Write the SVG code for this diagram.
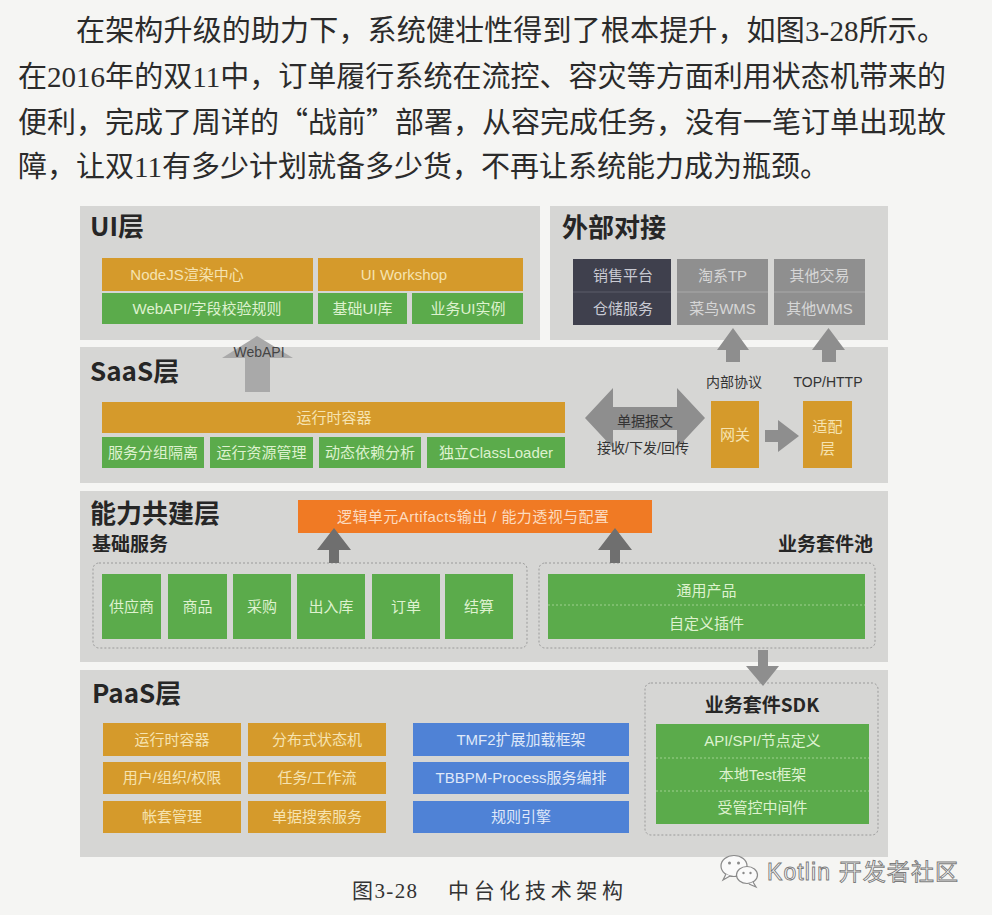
<svg xmlns="http://www.w3.org/2000/svg" width="992" height="915" viewBox="0 0 992 915">
<style>
.page{fill:#f5f5f3}
.panel{fill:#d6d6d4}
.para{font-family:"Liberation Serif","Noto Sans CJK SC",serif;font-size:29px;fill:#2b2b2b}
.cjk{font-family:"Noto Sans CJK SC",sans-serif}
.cap{font-family:"Liberation Serif","Noto Sans CJK SC",serif;font-size:21px;fill:#333}
.title{font-family:"Noto Sans CJK SC","Liberation Sans",sans-serif;font-weight:700;font-size:26px;fill:#262626}
.sub{font-family:"Noto Sans CJK SC","Liberation Sans",sans-serif;font-weight:700;font-size:19px;fill:#262626}
.bt{font-family:"Liberation Sans","Noto Sans CJK SC",sans-serif;font-size:15px;text-anchor:middle}
.lbl{font-family:"Liberation Sans","Noto Sans CJK SC",sans-serif;font-size:14px;text-anchor:middle;fill:#333}
.or{fill:#d59a2b}.ort{fill:#f6e3b0}
.gr{fill:#5bab4b}.grt{fill:#def2cf}
.dk{fill:#3f404d}.dkt{fill:#c9cad3}
.gy{fill:#8f8f8f}.gyt{fill:#d6d6d6}
.bl{fill:#4f82d6}.blt{fill:#dfe8f9}
.bo{fill:#f07a24}.bot{fill:#fcdcc0}
.arr{fill:#8e8e8e}
.arr2{fill:#6f6f6f}
.dash{fill:none;stroke:#9a9a9a;stroke-width:1;stroke-dasharray:2 2}
.div{stroke-width:1;stroke-dasharray:2 2}
</style>
<rect class="page" x="0" y="0" width="992" height="915"/>

<g id="paragraph">
<text class="para" x="76" y="41" textLength="870" lengthAdjust="spacing">在架构升级的助力下，系统健壮性得到了根本提升，如图3-28所示。</text>
<text class="para" x="18" y="87" textLength="928" lengthAdjust="spacing">在2016年的双11中，订单履行系统在流控、容灾等方面利用状态机带来的</text>
<text class="para" x="18" y="133" textLength="928" lengthAdjust="spacing">便利，完成了周详的<tspan class="cjk">“</tspan>战前<tspan class="cjk">”</tspan>部署，从容完成任务，没有一笔订单出现故</text>
<text class="para" x="18" y="177">障，让双11有多少计划就备多少货，不再让系统能力成为瓶颈。</text>
</g>

<g id="panels">
<rect class="panel" x="80" y="206" width="460" height="134"/>
<rect class="panel" x="550" y="206" width="338" height="134"/>
<rect class="panel" x="80" y="347" width="808" height="136"/>
<rect class="panel" x="80" y="491" width="808" height="171"/>
<rect class="panel" x="80" y="670" width="808" height="187"/>
</g>

<g id="ui-layer">
<text class="title" x="90" y="236">UI层</text>
<g id="nodejs"><rect class="or" x="102" y="258" width="211" height="33"/><text class="bt ort" x="187" y="280">NodeJS渲染中心</text></g>
<g id="ui-workshop"><rect class="or" x="318" y="258" width="205" height="33"/><text class="bt ort" x="404" y="280">UI Workshop</text></g>
<g id="webapi-rules"><rect class="gr" x="102" y="293" width="211" height="31"/><text class="bt grt" x="207" y="314">WebAPI/字段校验规则</text></g>
<g id="base-ui"><rect class="gr" x="318" y="293" width="89" height="31"/><text class="bt grt" x="362.5" y="314">基础UI库</text></g>
<g id="biz-ui"><rect class="gr" x="412" y="293" width="111" height="31"/><text class="bt grt" x="468" y="314">业务UI实例</text></g>
</g>

<g id="external">
<text class="title" x="562" y="237">外部对接</text>
<g id="ext-dark"><rect class="dk" x="573" y="259" width="98" height="66"/><line x1="573" y1="292" x2="671" y2="292" stroke="#5c5d6a" stroke-width="1"/>
<text class="bt dkt" x="623" y="281">销售平台</text><text class="bt dkt" x="623" y="314">仓储服务</text></g>
<g id="ext-tb"><rect class="gy" x="677" y="259" width="91" height="66"/><line x1="677" y1="292" x2="768" y2="292" stroke="#a9a9a9" stroke-width="1"/>
<text class="bt gyt" x="722.5" y="281">淘系TP</text><text class="bt gyt" x="722.5" y="314">菜鸟WMS</text></g>
<g id="ext-other"><rect class="gy" x="774" y="259" width="91" height="66"/><line x1="774" y1="292" x2="865" y2="292" stroke="#a9a9a9" stroke-width="1"/>
<text class="bt gyt" x="819.5" y="281">其他交易</text><text class="bt gyt" x="819.5" y="314">其他WMS</text></g>
</g>

<g id="saas-layer">
<text class="title" x="90" y="381">SaaS层</text>
<g id="runtime"><rect class="or" x="102" y="402" width="463" height="31"/><text class="bt ort" x="334" y="423">运行时容器</text></g>
<g id="svc-group"><rect class="gr" x="102" y="437" width="102" height="31"/><text class="bt grt" x="153" y="458">服务分组隔离</text></g>
<g id="res-mgmt"><rect class="gr" x="210" y="437" width="103" height="31"/><text class="bt grt" x="261.5" y="458">运行资源管理</text></g>
<g id="dep-ana"><rect class="gr" x="319" y="437" width="102" height="31"/><text class="bt grt" x="370" y="458">动态依赖分析</text></g>
<g id="classloader"><rect class="gr" x="427" y="437" width="138" height="31"/><text class="bt grt" x="496" y="458">独立ClassLoader</text></g>
<g id="gateway"><rect class="or" x="711" y="401" width="48" height="67"/><text class="bt ort" x="735" y="440">网关</text></g>
<g id="adapter"><rect class="or" x="803" y="401" width="49" height="67"/><text class="bt ort" x="827.5" y="432">适配</text><text class="bt ort" x="827.5" y="454">层</text></g>
</g>

<g id="capability-layer">
<text class="title" x="90" y="523">能力共建层</text>
<text class="sub" x="92" y="551">基础服务</text>
<text class="sub" x="873" y="551" text-anchor="end">业务套件池</text>
<g id="artifacts"><rect class="bo" x="298" y="500" width="354" height="33"/><text class="bt bot" x="337" y="522" textLength="272" lengthAdjust="spacing" style="text-anchor:start">逻辑单元Artifacts输出 / 能力透视与配置</text></g>
<rect class="dash" x="93" y="563" width="434" height="85" rx="6"/>
<rect class="dash" x="539" y="563" width="336" height="85" rx="6"/>
<g id="supplier"><rect class="gr" x="102" y="574" width="59" height="65"/><text class="bt grt" x="131.5" y="612">供应商</text></g>
<g id="goods"><rect class="gr" x="168" y="574" width="59" height="65"/><text class="bt grt" x="197.5" y="612">商品</text></g>
<g id="purchase"><rect class="gr" x="233" y="574" width="58" height="65"/><text class="bt grt" x="262" y="612">采购</text></g>
<g id="inout"><rect class="gr" x="297" y="574" width="68" height="65"/><text class="bt grt" x="331" y="612">出入库</text></g>
<g id="order"><rect class="gr" x="372" y="574" width="68" height="65"/><text class="bt grt" x="406" y="612">订单</text></g>
<g id="settle"><rect class="gr" x="445" y="574" width="68" height="65"/><text class="bt grt" x="479" y="612">结算</text></g>
<g id="suite-pool"><rect class="gr" x="548" y="574" width="317" height="65"/><line class="div" x1="548" y1="605" x2="865" y2="605" stroke="#9fd08f"/>
<text class="bt grt" x="706.5" y="596">通用产品</text><text class="bt grt" x="706.5" y="629">自定义插件</text></g>
</g>

<g id="paas-layer">
<text class="title" x="92" y="703">PaaS层</text>
<g id="p-runtime"><rect class="or" x="103" y="723" width="138" height="33"/><text class="bt ort" x="172" y="745">运行时容器</text></g>
<g id="p-fsm"><rect class="or" x="248" y="723" width="138" height="33"/><text class="bt ort" x="317" y="745">分布式状态机</text></g>
<g id="p-user"><rect class="or" x="103" y="762" width="138" height="32"/><text class="bt ort" x="172" y="783">用户/组织/权限</text></g>
<g id="p-task"><rect class="or" x="248" y="762" width="138" height="32"/><text class="bt ort" x="317" y="783">任务/工作流</text></g>
<g id="p-account"><rect class="or" x="103" y="801" width="138" height="32"/><text class="bt ort" x="172" y="822">帐套管理</text></g>
<g id="p-search"><rect class="or" x="248" y="801" width="138" height="32"/><text class="bt ort" x="317" y="822">单据搜索服务</text></g>
<g id="p-tmf2"><rect class="bl" x="413" y="723" width="216" height="33"/><text class="bt blt" x="521" y="745">TMF2扩展加载框架</text></g>
<g id="p-tbbpm"><rect class="bl" x="413" y="762" width="216" height="32"/><text class="bt blt" x="521" y="783">TBBPM-Process服务编排</text></g>
<g id="p-rule"><rect class="bl" x="413" y="801" width="216" height="32"/><text class="bt blt" x="521" y="822">规则引擎</text></g>
<g id="sdk">
<rect class="dash" x="645" y="683" width="233" height="152" rx="6"/>
<text class="sub" x="762" y="712" text-anchor="middle">业务套件SDK</text>
<rect class="gr" x="656" y="724" width="213" height="100"/>
<line class="div" x1="656" y1="758" x2="869" y2="758" stroke="#9fd08f"/>
<line class="div" x1="656" y1="791" x2="869" y2="791" stroke="#9fd08f"/>
<text class="bt grt" x="762.5" y="746">API/SPI/节点定义</text>
<text class="bt grt" x="762.5" y="780">本地Test框架</text>
<text class="bt grt" x="762.5" y="813">受管控中间件</text>
</g>
</g>

<g id="connectors">
<polygon points="257,336 293,358 270,358 270,392 245,392 245,358 222,358" fill="#a9a9a9"/>
<text class="lbl" x="259" y="357" style="fill:#444">WebAPI</text>
<polygon class="arr" points="733,328 749,350 740,350 740,362 726,362 726,350 717,350"/>
<polygon class="arr" points="828.5,328 845,350 836,350 836,362 822,362 822,350 812,350"/>
<text class="lbl" x="734" y="387">内部协议</text>
<text class="lbl" x="828" y="387">TOP/HTTP</text>
<polygon class="arr" points="585,418 613,388 613,407 677,407 677,388 705,418 677,448 677,430 613,430 613,448"/>
<text class="lbl" x="645" y="426">单据报文</text>
<text class="lbl" x="643" y="453">接收/下发/回传</text>
<polygon class="arr" points="765,430 778,430 778,420 799,436 778,452 778,442 765,442"/>
<polygon class="arr2" points="334,528 351,550 339,550 339,563 329,563 329,550 317,550"/>
<polygon class="arr2" points="615,528 632,550 620,550 620,563 610,563 610,550 598,550"/>
<polygon class="arr" points="758,650 768,650 768,666 779,666 763,686 746,666 758,666"/>
</g>

<g id="watermark">
<ellipse cx="734" cy="866" rx="13" ry="10.5" fill="#fafafa" stroke="#8a8a8a" stroke-width="1.2"/>
<path d="M726,874 l-3,6 l7,-4" fill="#fafafa" stroke="#8a8a8a" stroke-width="1.2"/>
<ellipse cx="747" cy="875" rx="10.5" ry="8.5" fill="#fafafa" stroke="#8a8a8a" stroke-width="1.2"/>
<path d="M753,882 l3,5 l-7,-3" fill="#fafafa" stroke="#8a8a8a" stroke-width="1.2"/>
<circle cx="729.5" cy="863" r="1.5" fill="#8a8a8a"/><circle cx="738.5" cy="863" r="1.5" fill="#8a8a8a"/>
<circle cx="743.5" cy="873" r="1.2" fill="#8a8a8a"/><circle cx="750.5" cy="873" r="1.2" fill="#8a8a8a"/>
<text x="767" y="880" font-family="'Liberation Sans','Noto Sans CJK SC',sans-serif" font-size="23" fill="#fbfbfb" stroke="#7a7a7a" stroke-width="0.9" textLength="191" lengthAdjust="spacing">Kotlin 开发者社区</text>
</g>

<g id="caption">
<text class="cap" x="352" y="898" textLength="65" lengthAdjust="spacing">图3-28</text>
<text class="cap" x="448" y="898" textLength="175" lengthAdjust="spacing">中台化技术架构</text>
</g>
</svg>
